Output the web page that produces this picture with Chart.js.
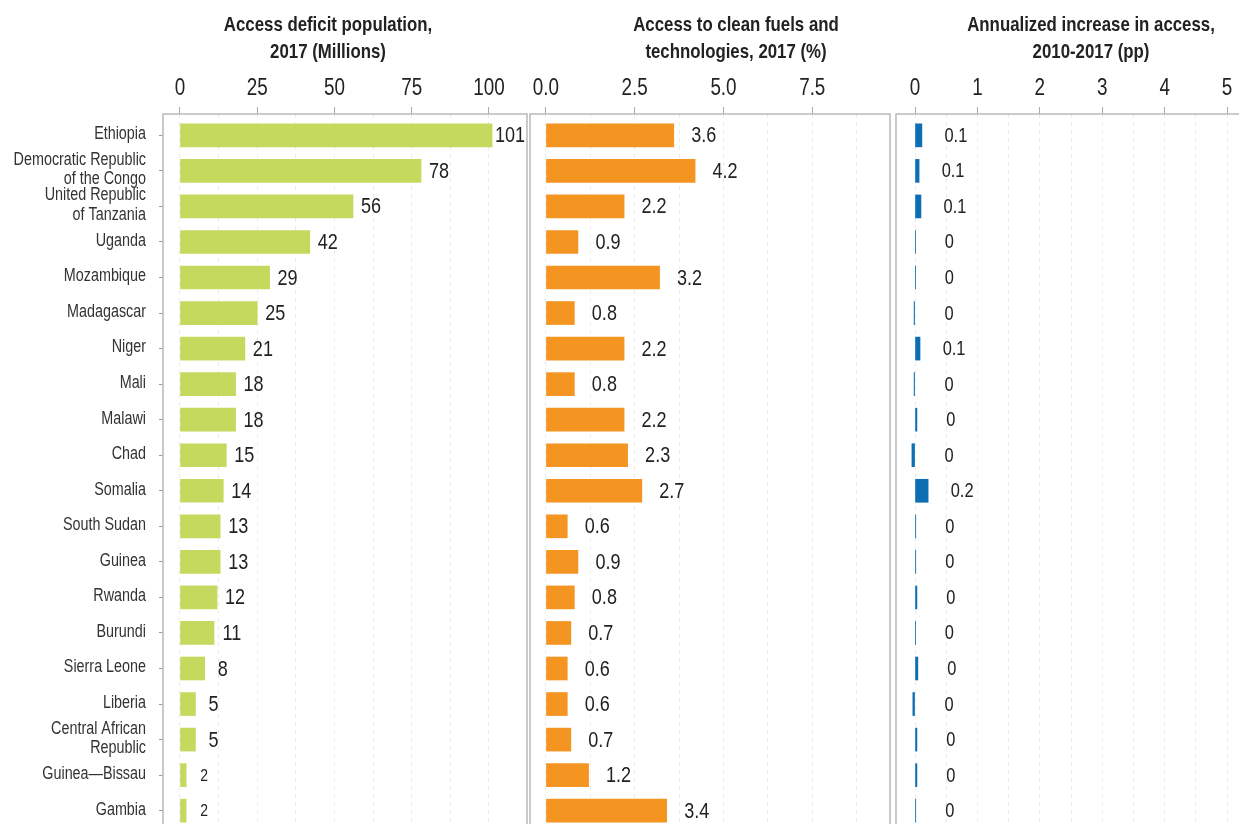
<!DOCTYPE html>
<html><head><meta charset="utf-8">
<script src="https://cdn.jsdelivr.net/npm/chart.js@4/dist/chart.umd.min.js"></script>
<style>
html,body{margin:0;padding:0;background:#fff;overflow:hidden;width:1239px;height:824px;}
canvas{position:absolute;top:0;}
</style></head><body>
<canvas id="c1" width="528" height="832" style="left:0px"></canvas>
<canvas id="c2" width="364" height="832" style="left:528px"></canvas>
<canvas id="c3" width="370" height="832" style="left:892px"></canvas>
<script>
// ---------- data ----------
const countries = ["Ethiopia","Democratic Republic of the Congo","United Republic of Tanzania","Uganda","Mozambique","Madagascar","Niger","Mali","Malawi","Chad","Somalia","South Sudan","Guinea","Rwanda","Burundi","Sierra Leone","Liberia","Central African Republic","Guinea—Bissau","Gambia"];
const countryLabels = [["Ethiopia"],["Democratic Republic","of the Congo"],["United Republic","of Tanzania"],["Uganda"],["Mozambique"],["Madagascar"],["Niger"],["Mali"],["Malawi"],["Chad"],["Somalia"],["South Sudan"],["Guinea"],["Rwanda"],["Burundi"],["Sierra Leone"],["Liberia"],["Central African","Republic"],["Guinea—Bissau"],["Gambia"]];
const deficitPop = [101,78,56,42,29,25,21,18,18,15,14,13,13,12,11,8,5,5,2,2];
const cleanFuels = [3.6,4.2,2.2,0.9,3.2,0.8,2.2,0.8,2.2,2.3,2.7,0.6,0.9,0.8,0.7,0.6,0.6,0.7,1.2,3.4];
const annualIncrease = [0.11,0.065,0.095,0.005,0.005,-0.015,0.08,-0.015,0.03,-0.05,0.21,0.012,0.012,0.03,0.005,0.045,-0.035,0.03,0.03,0.012];
const annualIncreaseLabels = ["0.1","0.1","0.1","0","0","0","0.1","0","0","0","0.2","0","0","0","0","0","0","0","0","0"];
const deficitTicks = [0,25,50,75,100];
const fuelsTicks = [0,2.5,5,7.5];
const increaseTicks = [0,1,2,3,4,5];
const titles = [["Access deficit population,","2017 (Millions)"],["Access to clean fuels and","technologies, 2017 (%)"],["Annualized increase in access,","2010-2017 (pp)"]];

// ---------- helpers ----------
const FONT = "'Liberation Sans', Arial, sans-serif";
const SX = 0.82;           // horizontal condensing of text
const TEXT = '#222';

function ctext(ctx, t, x, y, font, align, baseline, color){
  ctx.save();
  ctx.font = font; ctx.fillStyle = color || TEXT;
  ctx.textAlign = align; ctx.textBaseline = baseline;
  ctx.translate(x, y); ctx.scale(SX, 1);
  ctx.fillText(t, 0, 0);
  ctx.restore();
}

const panelPlugin = {
  id: 'panel',
  afterDraw(chart, args, o){
    const {ctx, chartArea:a} = chart;
    const xs = chart.scales.x, ys = chart.scales.y;
    ctx.save();
    ctx.strokeStyle = '#b9b9b9'; ctx.lineWidth = 1.5;
    ctx.beginPath();
    ctx.moveTo(a.left, a.bottom); ctx.lineTo(a.left, a.top); ctx.lineTo(a.right, a.top);
    if (o.right) ctx.lineTo(a.right, a.bottom);
    ctx.stroke();
    ctx.restore();
    // title
    o.title.forEach((t,i)=> ctext(ctx, t, o.titleX, 30.5 + i*27.5, "bold 20.5px " + FONT, 'center', 'alphabetic'));
    // x tick labels
    o.ticks.forEach(v => ctext(ctx, o.fmt(v), xs.getPixelForValue(v), 94.5, "23px " + FONT, 'center', 'alphabetic'));
    // category labels
    if (o.showCats) {
      countryLabels.forEach((lines, i) => {
        const yc = ys.getPixelForValue(i) - 1;
        const lh = 19.5;
        lines.forEach((ln, j) => {
          const y = yc + (j - (lines.length - 1) / 2) * lh;
          ctext(ctx, ln, a.left - 17, y, "17.5px " + FONT, 'right', 'middle', '#333');
        });
      });
    }
    // value labels
    const meta = chart.getDatasetMeta(0);
    const zero = xs.getPixelForValue(0);
    meta.data.forEach((bar,i)=>{
      const small = o.smallBelow !== undefined && o.values[i] < o.smallBelow;
      ctext(ctx, o.texts[i], Math.max(bar.x, zero) + o.offset, bar.y + 1,
            (small ? o.smallSize : o.size) + "px " + FONT, 'center', 'middle');
    });
  }
};

function makeChart(id, values, color, ticksMajor, step, min, max, fmt, showY, pad, panelOpts){
  const near = (v, arr) => arr.some(t => Math.abs(t - v) < 1e-6);
  const grid = [];
  ticksMajor.forEach(t => { grid.push(t); if (t + step/2 <= max) grid.push(t + step/2); });
  panelOpts.ticks = ticksMajor; panelOpts.fmt = fmt; panelOpts.showCats = showY;
  return new Chart(document.getElementById(id), {
    type: 'bar',
    data: { datasets: [{ data: values.map((v,i)=>({x:v, y:i})), backgroundColor: color, barThickness: 23, borderWidth: 0 }] },
    plugins: [panelPlugin],
    options: {
      indexAxis: 'y', responsive: false, animation: false,
      layout: { padding: pad },
      plugins: { legend:{display:false}, tooltip:{enabled:false}, panel: panelOpts },
      scales: {
        x: {
          type: 'linear', position: 'top', min: min, max: max,
          afterBuildTicks: s => { s.ticks = grid.map(v=>({value:v})); },
          afterFit: s => { s.height = 114; },
          ticks: { display: false },
          grid: { color: '#ebebeb', lineWidth: 1, tickLength: 7, tickWidth: 1,
                  tickColor: c => (c.tick && near(c.tick.value, ticksMajor)) ? '#aaaaaa' : 'rgba(0,0,0,0)' },
          border: { display: false, dash: [4,4] }
        },
        y: {
          type: 'linear', reverse: true, min: -0.6, max: 19.6, display: showY, offset: false,
          afterBuildTicks: s => { s.ticks = countries.map((_,i)=>({value:i})); },
          afterFit: s => { s.width = showY ? 163 : 0; },
          ticks: { display: false },
          grid: { offset: false, drawOnChartArea: false, tickLength: 4, tickColor: '#999' },
          border: { display: false }
        }
      }
    }
  });
}

makeChart('c1', deficitPop, '#c5d95e', deficitTicks, 25, -5.5, 112.3, v => String(v), true,
  {left:0, right:1, top:0, bottom:0},
  {title: titles[0], titleX: 328, texts: deficitPop.map(v=>String(v)), values: deficitPop, offset: 18, size: 22, smallBelow: 3, smallSize: 17, right: true});

makeChart('c2', cleanFuels, '#f49421', fuelsTicks, 2.5, -0.45, 9.69, v => v.toFixed(1), false,
  {left:2, right:2, top:0, bottom:0},
  {title: titles[1], titleX: 208, texts: cleanFuels.map(v=>v.toFixed(1)), values: cleanFuels, offset: 30, size: 22, right: true});

makeChart('c3', annualIncrease, '#0c6fb4', increaseTicks, 1, -0.305, 5.56, v => String(v), false,
  {left:4, right:0, top:0, bottom:0},
  {title: titles[2], titleX: 199, texts: annualIncreaseLabels, values: annualIncrease, offset: 34, size: 20, right: false});
</script>
</body></html>
